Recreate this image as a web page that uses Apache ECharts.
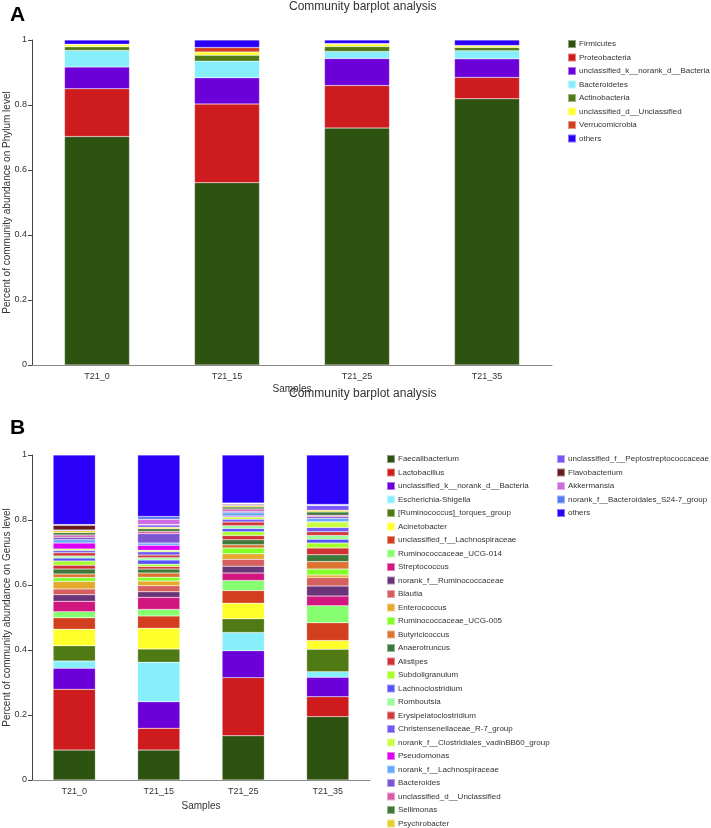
<!DOCTYPE html>
<html>
<head>
<meta charset="utf-8">
<script src="https://cdn.jsdelivr.net/npm/echarts@6/dist/echarts.min.js"></script>
<style>
html,body{margin:0;padding:0;background:#fff;}
#chart{width:711px;height:828px;}
</style>
</head>
<body>
<div id="chart"></div>
<script>
const samples = ['T21_0', 'T21_15', 'T21_25', 'T21_35'];
const yTicks = [0, 0.2, 0.4, 0.6, 0.8, 1];

const phylumNames = ['Firmicutes', 'Proteobacteria', 'unclassified_k__norank_d__Bacteria', 'Bacteroidetes',
  'Actinobacteria', 'unclassified_d__Unclassified', 'Verrucomicrobia', 'others'];
const phylumColors = ['#2E5210', '#CD1B1E', '#6B00D8', '#87EFFB', '#507A14', '#FFFF2B', '#D23E1E', '#2B00F8'];
const phylum_T21_0  = [0.703, 0.147, 0.067, 0.051, 0.011, 0.007, 0.001, 0.013];
const phylum_T21_15 = [0.561, 0.242, 0.081, 0.051, 0.018, 0.010, 0.014, 0.023];
const phylum_T21_25 = [0.729, 0.131, 0.083, 0.022, 0.015, 0.008, 0.001, 0.011];
const phylum_T21_35 = [0.819, 0.066, 0.057, 0.025, 0.010, 0.005, 0.001, 0.017];

const genusNames = ['Faecalibacterium', 'Lactobacillus', 'unclassified_k__norank_d__Bacteria', 'Escherichia-Shigella',
  '[Ruminococcus]_torques_group', 'Acinetobacter', 'unclassified_f__Lachnospiraceae', 'Ruminococcaceae_UCG-014',
  'Streptococcus', 'norank_f__Ruminococcaceae', 'Blautia', 'Enterococcus', 'Ruminococcaceae_UCG-005',
  'Butyricicoccus', 'Anaerotruncus', 'Alistipes', 'Subdoligranulum', 'Lachnoclostridium', 'Romboutsia',
  'Erysipelatoclostridium', 'Christensenellaceae_R-7_group', 'norank_f__Clostridiales_vadinBB60_group',
  'Pseudomonas', 'norank_f__Lachnospiraceae', 'Bacteroides', 'unclassified_d__Unclassified', 'Sellimonas',
  'Psychrobacter', 'unclassified_f__Peptostreptococcaceae', 'Flavobacterium', 'Akkermansia',
  'norank_f__Bacteroidales_S24-7_group', 'others'];
const genusColors = ['#2E5210', '#CD1B1E', '#6B00D8', '#87EFFB', '#507A14', '#FFFF2B', '#D23E1E', '#85FF70',
  '#D1167F', '#6A3478', '#D65E5E', '#E5A92E', '#83FF29', '#DC7331', '#3D7938', '#CF3135', '#A6FF2B',
  '#5654F7', '#97FF9A', '#D03A3A', '#7158F4', '#C9FF3E', '#DD00F5', '#66A9FA', '#7C55D1', '#DA5BA9',
  '#3D7938', '#E6CF2B', '#7B55F8', '#6A1B1F', '#CF6BE0', '#5679F5', '#2B00F8'];
const genus_T21_0  = [0.092, 0.187, 0.065, 0.022, 0.047, 0.051, 0.035, 0.019, 0.032, 0.020, 0.018, 0.023, 0.012, 0.011, 0.015, 0.012, 0.013, 0.009, 0.006, 0.010, 0.007, 0.005, 0.018, 0.010, 0.008, 0.007, 0.007, 0.006, 0.002, 0.015, 0.001, 0.001, 0.214];
const genus_T21_15 = [0.092, 0.067, 0.082, 0.121, 0.041, 0.064, 0.038, 0.020, 0.037, 0.017, 0.019, 0.014, 0.012, 0.013, 0.012, 0.008, 0.007, 0.013, 0.007, 0.008, 0.010, 0.005, 0.015, 0.007, 0.029, 0.007, 0.008, 0.005, 0.007, 0.001, 0.016, 0.009, 0.189];
const genus_T21_25 = [0.136, 0.179, 0.083, 0.056, 0.042, 0.048, 0.039, 0.031, 0.023, 0.021, 0.021, 0.017, 0.018, 0.010, 0.015, 0.013, 0.012, 0.010, 0.008, 0.012, 0.008, 0.007, 0.003, 0.010, 0.005, 0.007, 0.006, 0.005, 0.003, 0.002, 0.001, 0.001, 0.148];
const genus_T21_35 = [0.195, 0.061, 0.060, 0.017, 0.069, 0.027, 0.055, 0.052, 0.030, 0.031, 0.026, 0.008, 0.018, 0.023, 0.021, 0.021, 0.015, 0.012, 0.011, 0.012, 0.013, 0.017, 0.001, 0.010, 0.005, 0.005, 0.010, 0.005, 0.015, 0.001, 0.001, 0.001, 0.152];

const phylumBySample = [phylum_T21_0, phylum_T21_15, phylum_T21_25, phylum_T21_35];
const genusBySample = [genus_T21_0, genus_T21_15, genus_T21_25, genus_T21_35];

const FONT = 'Liberation Sans, Arial, sans-serif';
const TXT = '#333';

function makeSeries(names, colors, bySample, axisIdx, stack) {
  return names.map((n, i) => ({
    name: n,
    type: 'bar',
    stack: stack,
    xAxisIndex: axisIdx,
    yAxisIndex: axisIdx,
    barWidth: '50%',
    itemStyle: { color: colors[i], borderColor: 'rgba(255,255,255,0.45)', borderWidth: 0.5 },
    emphasis: { disabled: true },
    data: bySample.map(s => s[i])
  }));
}

function legendData(names, colors) {
  return names.map((n, i) => ({ name: n, itemStyle: { color: colors[i] } }));
}

function yAxisCfg(name, gi) {
  return {
    type: 'value', gridIndex: gi, min: 0, max: 1, interval: 0.2,
    name: name, nameLocation: 'middle', nameGap: 20, nameMoveOverlap: false,
    nameTextStyle: { fontFamily: FONT, fontSize: 10, color: TXT },
    axisLine: { show: true, lineStyle: { color: '#444', width: 1 } },
    axisTick: { show: true, length: 4, lineStyle: { color: '#444' } },
    axisLabel: { fontFamily: FONT, fontSize: 9, color: TXT, margin: 5 },
    splitLine: { show: false }
  };
}

function xAxisCfg(gi, gap) {
  return {
    type: 'category', gridIndex: gi, data: samples,
    name: 'Samples', nameLocation: 'middle', nameGap: gap, nameMoveOverlap: false,
    nameTextStyle: { fontFamily: FONT, fontSize: 10, color: TXT },
    axisLine: { lineStyle: { color: '#888', width: 1 } },
    axisTick: { alignWithLabel: true, length: 4, lineStyle: { color: '#888' } },
    axisLabel: { fontFamily: FONT, fontSize: 9, color: TXT, margin: 7 }
  };
}

const legendBase = {
  orient: 'vertical', icon: 'rect', itemWidth: 8, itemHeight: 8, itemGap: 3.5, padding: 0,
  height: 600, selectedMode: false,
  textStyle: { fontFamily: FONT, fontSize: 8, color: TXT, padding: [0, 0, 0, -2] }
};

const chart = echarts.init(document.getElementById('chart'), null, { renderer: 'canvas' });
chart.setOption({
  animation: false,
  backgroundColor: '#fff',
  title: [
    { text: 'Community barplot analysis', left: 289, top: 1, padding: 0,
      textStyle: { fontFamily: FONT, fontSize: 12, fontWeight: 'normal', color: TXT } },
    { text: 'Community barplot analysis', left: 289, top: 388, padding: 0,
      textStyle: { fontFamily: FONT, fontSize: 12, fontWeight: 'normal', color: TXT } }
  ],
  graphic: [
    { type: 'text', left: 10, top: 5, style: { text: 'A', font: 'bold 21px ' + FONT, fill: '#000' } },
    { type: 'text', left: 10, top: 418, style: { text: 'B', font: 'bold 21px ' + FONT, fill: '#000' } }
  ],
  grid: [
    { left: 32, top: 40, width: 520, height: 325, containLabel: false, outerBoundsMode: 'none' },
    { left: 32, top: 455, width: 338, height: 325, containLabel: false, outerBoundsMode: 'none' }
  ],
  xAxis: [xAxisCfg(0, 19), xAxisCfg(1, 21)],
  yAxis: [yAxisCfg('Percent of community abundance on Phylum level', 0),
          yAxisCfg('Percent of community abundance on Genus level', 1)],
  legend: [
    Object.assign({}, legendBase, { left: 567, top: 39, data: legendData(phylumNames, phylumColors) }),
    Object.assign({}, legendBase, { left: 386, top: 454, data: legendData(genusNames.slice(0, 28), genusColors.slice(0, 28)) }),
    Object.assign({}, legendBase, { left: 556, top: 454, data: legendData(genusNames.slice(28), genusColors.slice(28)) })
  ],
  series: makeSeries(phylumNames, phylumColors, phylumBySample, 0, 'phylum')
    .concat(makeSeries(genusNames, genusColors, genusBySample, 1, 'genus'))
});
</script>
</body>
</html>
